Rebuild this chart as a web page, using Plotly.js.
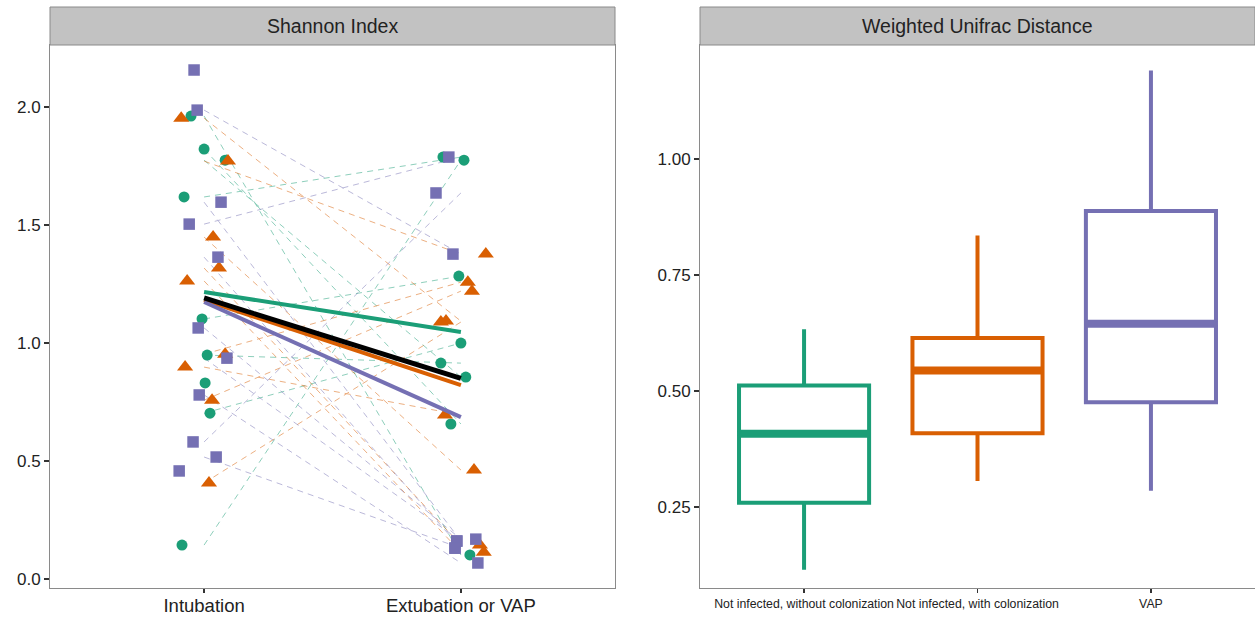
<!DOCTYPE html>
<html>
<head>
<meta charset="utf-8">
<script src="https://cdn.plot.ly/plotly-3.0.1.min.js"></script>
<style>html,body{margin:0;padding:0;background:#fff;}#chart{width:1255px;height:617px;}</style>
</head>
<body>
<div id="chart"></div>
<script>
// ---------- Data ----------
const timeLabels = ['Intubation', 'Extubation or VAP'];
const groupLabels = ['Not infected, without colonization', 'Not infected, with colonization', 'VAP'];
const groupColors = ['#1b9e77', '#d95f02', '#7570b3'];
const groupSymbols = ['circle', 'triangle-up', 'square'];

// Shannon index, per patient (intubation value, extubation/VAP value)
const greenIntub  = [1.962, 1.822, 1.775, 1.619, 1.102, 0.949, 0.831, 0.703, 0.144];
const greenExt    = [0.102, 0.657, 0.856, 1.788, 1.284, 0.915, null, 1.000, 1.775];
const orangeIntub = [1.953, 1.771, 1.449, 1.318, 1.263, 0.953, 0.898, 0.758, 0.407];
const orangeExt   = [1.093, 1.377, 0.462, 0.144, 0.114, 1.258, 0.695, 1.220, 1.089];
const purpleIntub = [2.157, 1.987, 1.597, 1.504, 1.364, 1.064, 0.936, 0.780, 0.581, 0.517, 0.458];
const purpleExt   = [null, 1.377, 0.161, 1.788, 0.131, 0.169, 0.161, 0.068, 1.636, 0.131, null];

// horizontal jitter of the points
const greenJitI  = [-0.051, 0.000, 0.082, -0.078, -0.008, 0.012, 0.004, 0.023, -0.086];
const greenJitE  = [0.035, -0.039, 0.019, -0.070, -0.008, -0.078, 0.000, 0.000, 0.012];
const orangeJitI = [-0.089, 0.093, 0.035, 0.058, -0.066, 0.082, -0.074, 0.031, 0.019];
const orangeJitE = [-0.058, 0.097, 0.051, 0.074, 0.089, 0.027, -0.062, 0.043, -0.078];
const purpleJitI = [-0.039, -0.027, 0.066, -0.058, 0.054, -0.023, 0.089, -0.019, -0.043, 0.047, -0.097];
const purpleJitE = [0.000, -0.031, -0.016, -0.047, -0.023, 0.058, -0.016, 0.066, -0.097, -0.023, 0.000];

// group mean lines (green, orange, purple, all)
const meanColors = ['#1b9e77', '#d95f02', '#7570b3', '#000000'];
const meanIntub  = [1.216, 1.182, 1.174, 1.191];
const meanExt    = [1.047, 0.822, 0.686, 0.850];

// Weighted Unifrac distance box statistics
const boxLower  = [0.115, 0.306, 0.285];
const boxQ1     = [0.259, 0.409, 0.476];
const boxMedian = [0.408, 0.544, 0.645];
const boxQ3     = [0.512, 0.614, 0.888];
const boxUpper  = [0.633, 0.835, 1.191];

// ---------- Build traces ----------
const intubArr = [greenIntub, orangeIntub, purpleIntub];
const extArr = [greenExt, orangeExt, purpleExt];
const jitIArr = [greenJitI, orangeJitI, purpleJitI];
const jitEArr = [greenJitE, orangeJitE, purpleJitE];

const traces = [];
// dashed connecting lines
for (let g = 0; g < 3; g++) {
  const xs = [], ys = [];
  intubArr[g].forEach((v, i) => {
    const e = extArr[g][i];
    if (e === null) return;
    xs.push(1, 2, null); ys.push(v, e, null);
  });
  traces.push({type:'scatter', mode:'lines', x:xs, y:ys, xaxis:'x', yaxis:'y',
    line:{color:groupColors[g], width:0.9, dash:'6px,5px'}, opacity:0.55,
    hoverinfo:'skip', showlegend:false});
}
// points
for (let g = 0; g < 3; g++) {
  const xs = [], ys = [];
  intubArr[g].forEach((v, i) => { xs.push(1 + jitIArr[g][i]); ys.push(v); });
  extArr[g].forEach((v, i) => { if (v !== null) { xs.push(2 + jitEArr[g][i]); ys.push(v); } });
  traces.push({type:'scatter', mode:'markers', x:xs, y:ys, xaxis:'x', yaxis:'y',
    marker:{color:groupColors[g], symbol:groupSymbols[g], size: g===1 ? 14 : (g===2 ? 11.5 : 11), line:{width:0}},
    hoverinfo:'skip', showlegend:false});
}
// mean lines
[1, 2, 0, 3].forEach(k => {
  traces.push({type:'scatter', mode:'lines', x:[1, 2], y:[meanIntub[k], meanExt[k]], xaxis:'x', yaxis:'y',
    line:{color:meanColors[k], width: k===3 ? 5 : 4}, hoverinfo:'skip', showlegend:false});
});
// box plots
for (let g = 0; g < 3; g++) {
  traces.push({type:'box', x:[g + 1], q1:[boxQ1[g]], median:[boxMedian[g]], q3:[boxQ3[g]],
    lowerfence:[boxLower[g]], upperfence:[boxUpper[g]], xaxis:'x2', yaxis:'y2',
    width:0.75, whiskerwidth:0, boxpoints:false, fillcolor:'rgba(0,0,0,0)',
    line:{color:groupColors[g], width:4}, hoverinfo:'skip', showlegend:false});
  traces.push({type:'scatter', mode:'lines', x:[g + 1 - 0.375, g + 1 + 0.375], y:[boxMedian[g], boxMedian[g]],
    xaxis:'x2', yaxis:'y2', line:{color:groupColors[g], width:8}, hoverinfo:'skip', showlegend:false});
}

// ---------- Layout ----------
const font = 'Liberation Sans, Arial, sans-serif';
const axBase = {showgrid:false, zeroline:false, showline:true, mirror:true, linecolor:'#8a8a8a', linewidth:1,
  ticks:'outside', ticklen:5, tickcolor:'#333', tickwidth:1.2};
const leftDom = [0, 565/1205];
const rightDom = [650/1205, 1];
const stripTop = 1 + 38/543;

const layout = {
  width:1255, height:617, margin:{l:50, r:0, t:45, b:29},
  paper_bgcolor:'#fff', plot_bgcolor:'#fff', showlegend:false,
  font:{family:font, color:'#222'},
  xaxis: Object.assign({}, axBase, {domain:leftDom, range:[0.4, 2.6], tickvals:[1, 2], ticktext:timeLabels,
    ticklen:4, ticklabelstandoff:-3, tickfont:{size:18.5, color:'#222'}, anchor:'y'}),
  yaxis: Object.assign({}, axBase, {domain:[0, 1], range:[-0.038, 2.263], tickvals:[0, 0.5, 1, 1.5, 2],
    ticktext:['0.0', '0.5', '1.0', '1.5', '2.0'], tickfont:{size:17, color:'#222'}, anchor:'x'}),
  xaxis2: Object.assign({}, axBase, {domain:rightDom, range:[0.4, 3.6], tickvals:[1, 2, 3], ticktext:groupLabels,
    ticklen:4, tickfont:{size:12.3, color:'#222'}, anchor:'y2'}),
  yaxis2: Object.assign({}, axBase, {domain:[0, 1], range:[0.0755, 1.2457], tickvals:[0.25, 0.5, 0.75, 1.0],
    ticktext:['0.25', '0.50', '0.75', '1.00'], tickfont:{size:17, color:'#222'}, anchor:'x2'}),
  shapes:[
    {type:'rect', xref:'paper', yref:'paper', x0:leftDom[0], x1:leftDom[1], y0:1, y1:stripTop,
     fillcolor:'#c2c2c2', line:{color:'#8a8a8a', width:1}},
    {type:'rect', xref:'paper', yref:'paper', x0:rightDom[0], x1:rightDom[1], y0:1, y1:stripTop,
     fillcolor:'#c2c2c2', line:{color:'#8a8a8a', width:1}}
  ],
  annotations:[
    {xref:'paper', yref:'paper', x:(leftDom[0]+leftDom[1])/2, y:(1+stripTop)/2, text:'Shannon Index',
     showarrow:false, font:{size:19.5, color:'#222', family:font}, xanchor:'center', yanchor:'middle'},
    {xref:'paper', yref:'paper', x:(rightDom[0]+rightDom[1])/2, y:(1+stripTop)/2, text:'Weighted Unifrac Distance',
     showarrow:false, font:{size:19.5, color:'#222', family:font}, xanchor:'center', yanchor:'middle'}
  ]
};

Plotly.newPlot('chart', traces, layout, {staticPlot:true, displayModeBar:false});
</script>
</body>
</html>
